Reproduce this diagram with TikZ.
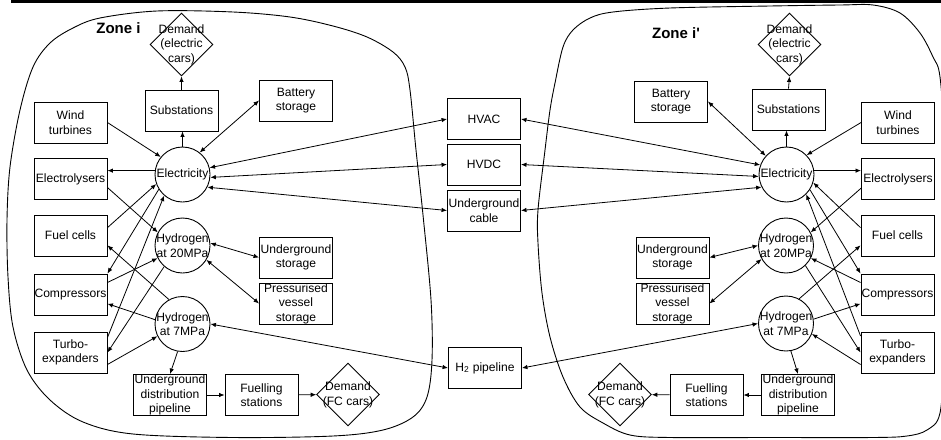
\documentclass[tikz,border=0pt]{standalone}
\usepackage{fontspec}
\setmainfont{Liberation Sans}[Ligatures=TeXOff]
\usetikzlibrary{shapes.geometric,arrows.meta}
\begin{document}
\begin{tikzpicture}[x=1pt,y=-1pt,
 every node/.style={font=\fontsize{12.1}{14.4}\selectfont, text=black},
 box/.style={draw, line width=0.9pt, rectangle, minimum width=73pt, minimum height=41pt, inner sep=0pt, align=center},
 circ/.style={draw, line width=0.9pt, circle, minimum size=55pt, inner sep=0pt},
 dmd/.style={draw, line width=0.9pt, diamond, minimum width=63pt, minimum height=63pt, inner sep=0pt},
 lbl/.style={align=center, inner sep=0pt},
 arr/.style={line width=0.8pt, -{Latex[length=5.5pt,width=4.5pt]}},
 darr/.style={line width=0.8pt, {Latex[length=5.5pt,width=4.5pt]}-{Latex[length=5.5pt,width=4.5pt]}},
 zone/.style={line width=0.9pt},
 zlabel/.style={font=\fontsize{15}{18}\selectfont\bfseries}
]
\useasboundingbox (0,0) rectangle (941,439);
\clip (0,0) rectangle (941,439);
\fill (11,0) rectangle (941,3);

% zone outlines
\draw[zone] plot[smooth cycle, tension=0.55] coordinates {
 (100,18) (157,11) (233,12) (290,17) (333,26) (367,37) (393,52) (405,67) (410,90)
 (416,150) (423,215) (431,300) (432,360) (427,397) (413,417) (383,430) (333,436)
 (233,437.5) (133,434) (83,422) (50,400) (27,370) (13,327) (8,277) (7,220) (10,167)
 (20,110) (33,67) (50,43) (73,28)};
\draw[zone] plot[smooth cycle, tension=0.55] coordinates {
 (573,30) (590,18) (613,12) (670,8) (770,6) (840,5) (873,5) (900,13) (920,33) (933,57)
 (940,77) (945,150) (946,250) (944,350) (940,413) (927,430) (907,436) (873,437.5)
 (770,437.5) (670,437.5) (630,435) (603,423) (580,407) (563,377) (550,337) (542,293)
 (538,243) (538,210) (545,150) (550,110) (555,83) (563,47)};

% zone labels
\node[zlabel] (zl) at (118.5,28) {Zone i};
\node[zlabel] (zr) at (676,33) {Zone i'};

% ---------- left zone ----------
\node[dmd] (dl) at (181.5,44.5) {};
\node[lbl] (dlt) at (181.5,44.5) {Demand\\(electric\\cars)};
\node[box] (subl) at (181.5,110.5) {Substations};
\node[box] (batl) at (296,100.5) {Battery\\storage};
\node[box] (windl) at (70.5,122.5) {Wind\\turbines};
\node[circ] (elecl) at (182.5,174.5) {};
\node[lbl] (elecllt) at (182.5,174.5) {Electricity};
\node[box] (elyl) at (70.5,179) {Electrolysers};
\node[box] (fcl) at (70.5,235.5) {Fuel cells};
\node[circ] (h20l) at (182.5,245.5) {};
\node[lbl] (h20lt) at (182.5,245.5) {Hydrogen\\at 20MPa};
\node[box] (compl) at (70.5,294.5) {Compressors};
\node[box] (ugsl) at (296,257.5) {Underground\\storage};
\node[box] (pvl) at (296,303.5) {Pressurised\\vessel\\storage};
\node[circ] (h7l) at (182.5,324) {};
\node[lbl] (h7lt) at (182.5,324) {Hydrogen\\at 7MPa};
\node[box] (turbl) at (70.5,352.5) {Turbo-\\expanders};
\node[box] (udpl) at (170,395) {Underground\\distribution\\pipeline};
\node[box] (fsl) at (261.5,395) {Fuelling\\stations};
\node[dmd] (dfl) at (348,394.5) {};
\node[lbl] (dflt) at (348,395) {Demand\\(FC cars)};

% ---------- middle ----------
\node[box] (hvac) at (484,119) {HVAC};
\node[box] (hvdc) at (484,164.5) {HVDC};
\node[box] (ugc) at (484,210.5) {Underground\\cable};
\node[box] (h2p) at (485,368) {H\textsubscript{2} pipeline};

% ---------- right zone ----------
\node[dmd] (dr) at (789.5,44.5) {};
\node[lbl] (drt) at (789.5,44.5) {Demand\\(electric\\cars)};
\node[box] (subr) at (788.5,109.5) {Substations};
\node[box] (batr) at (671,101.5) {Battery\\storage};
\node[box] (windr) at (898,122.5) {Wind\\turbines};
\node[circ] (elecr) at (786.5,174.5) {};
\node[lbl] (elecrt) at (786.5,174.5) {Electricity};
\node[box] (elyr) at (898,179) {Electrolysers};
\node[box] (fcr) at (897.5,235.5) {Fuel cells};
\node[circ] (h20r) at (786,245.5) {};
\node[lbl] (h20rt) at (786,245.5) {Hydrogen\\at 20MPa};
\node[box] (ugsr) at (672.5,257.5) {Underground\\storage};
\node[box] (pvr) at (672.5,303.5) {Pressurised\\vessel\\storage};
\node[box] (compr) at (897.5,294.5) {Compressors};
\node[circ] (h7r) at (786,323.5) {};
\node[lbl] (h7rt) at (786,323.5) {Hydrogen\\at 7MPa};
\node[box] (turbr) at (897.5,352.5) {Turbo-\\expanders};
\node[box] (udpr) at (798,395) {Underground\\distribution\\pipeline};
\node[box] (fsr) at (706.5,395) {Fuelling\\stations};
\node[dmd] (dfr) at (620,394.5) {};
\node[lbl] (dfrt) at (620,395) {Demand\\(FC cars)};

% ---------- left connectors ----------
\draw[arr] (subl.north) -- (dl.south);
\draw[arr] (elecl.north) -- (elecl.north |- subl.south);
\draw[darr] (elecl.52) -- (batl.west);
\draw[arr] (windl.east) -- (elecl.141);
\draw[arr] (elecl.172) -- (elyl.east |- elecl.172);
\draw[arr] (elyl.-13) -- (h20l.152);
\draw[arr] (fcl.12) -- (elecl.200);
\draw[arr] (elecl.212) -- (compl.north east);
\draw[arr] (turbl.22) -- (elecl.229);
\draw[arr] (compl.18) -- (h20l.207);
\draw[arr] (h20l.229) -- (turbl.east);
\draw[arr] (turbl.-18) -- (h7l.206);
\draw[arr] (h7l.119) -- (fcl.-15);
\draw[arr] (h7l.171) -- (compl.-14);
\draw[arr] (h7l.260) -- (udpl.north);
\draw[arr] (udpl) -- (fsl);
\draw[arr] (fsl) -- (dfl);
\draw[darr] (h20l.5) -- (ugsl.west);
\draw[darr] (h20l.-31) -- (pvl.west);
\draw[darr] (h7l.east) -- (h2p.west);
\draw[darr] (elecl.14) -- (hvac.west);
\draw[darr] (elecl.-6) -- (hvdc.west);
\draw[darr] (elecl.-27) -- (ugc.west);

% ---------- right connectors ----------
\draw[darr] (elecr.160) -- (hvac.east);
\draw[darr] (elecr.184) -- (hvdc.east);
\draw[darr] (elecr.207) -- (ugc.east);
\draw[darr] (elecr.138) -- (batr.east);
\draw[arr] (elecr.north) -- (elecr.north |- subr.south);
\draw[arr] (subr.north) -- (dr.south);
\draw[arr] (windr.west) -- (elecr.44);
\draw[arr] (elecr.8) -- (elyr.west |- elecr.8);
\draw[arr] (elyr.194) -- (h20r.28);
\draw[arr] (fcr.168) -- (elecr.-17);
\draw[arr] (elecr.-33) -- (compr.north west);
\draw[arr] (turbr.156) -- (elecr.-45);
\draw[arr] (h20r.-46) -- (turbr.west);
\draw[arr] (turbr.198) -- (h7r.-22);
\draw[arr] (compr.162) -- (h20r.-27);
\draw[arr] (h7r.62) -- (fcr.195);
\draw[arr] (h7r.9) -- (compr.194);
\draw[arr] (h7r.-80) -- (udpr.north);
\draw[arr] (udpr) -- (fsr);
\draw[arr] (fsr) -- (dfr);
\draw[darr] (h7r.west) -- (h2p.east);
\draw[darr] (h20r.west) -- (ugsr.east);
\draw[darr] (h20r.209) -- (pvr.east);
\end{tikzpicture}
\end{document}
